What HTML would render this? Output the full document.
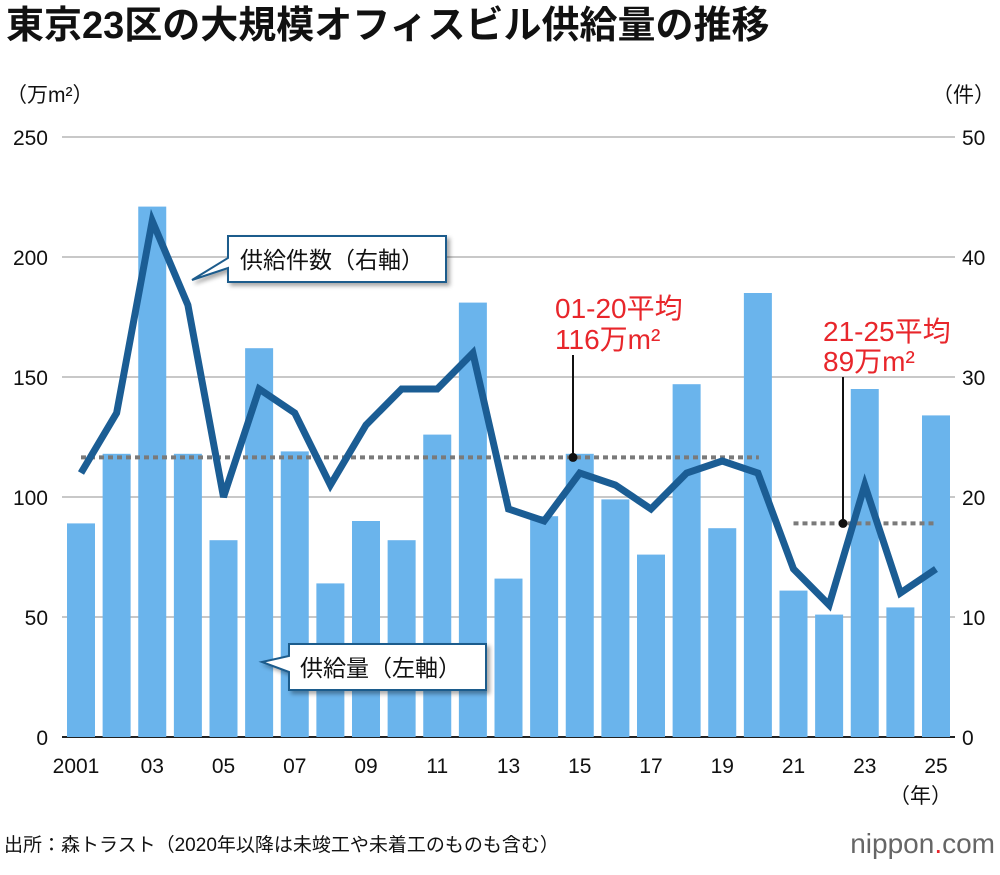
<!DOCTYPE html>
<html><head><meta charset="utf-8"><style>
body{margin:0;background:#fff;font-family:"Liberation Sans","Noto Sans CJK JP",sans-serif;}
svg text{font-family:"Liberation Sans","Noto Sans CJK JP",sans-serif;}
</style></head><body>
<svg id="c" width="1000" height="870" viewBox="0 0 1000 870">
<defs><filter id="sh" x="-10%" y="-10%" width="130%" height="140%"><feDropShadow dx="3" dy="3" stdDeviation="2" flood-color="#000" flood-opacity="0.35"/></filter></defs>
<text x="6" y="38" font-size="38" font-weight="bold" fill="#111">東京23区の大規模オフィスビル供給量の推移</text>
<text x="6" y="102" font-size="21" fill="#111">（万m²）</text>
<text x="995" y="102" font-size="21" fill="#111" text-anchor="end">（件）</text>
<g id="grid"></g><g id="bars"></g><g id="avg"></g><g id="line"></g><g id="ticks"></g>
<g filter="url(#sh)">
<path d="M228,236 H446 V282 H228 V268 L192,280 L228,258 Z" fill="#fff" stroke="#1d5b8c" stroke-width="2"/>
</g>
<text x="240" y="268" font-size="23" fill="#111">供給件数（右軸）</text>
<g filter="url(#sh)">
<path d="M289,644 H486 V690 H289 V672 L262,662 L289,656 Z" fill="#fff" stroke="#1d5b8c" stroke-width="2"/>
</g>
<text x="300" y="676" font-size="23" fill="#111">供給量（左軸）</text>
<text x="555" y="318" font-size="28" fill="#e8262b">01-20平均</text>
<text x="555" y="349" font-size="28" fill="#e8262b">116万m²</text>
<text x="823" y="341" font-size="28" fill="#e8262b">21-25平均</text>
<text x="823" y="371" font-size="28" fill="#e8262b">89万m²</text>
<text x="952" y="803" font-size="21" fill="#111" text-anchor="end">（年）</text>
<text x="4" y="851" font-size="19" fill="#111">出所：森トラスト（2020年以降は未竣工や未着工のものも含む）</text>
<text x="995" y="853" font-size="28" fill="#666" text-anchor="end">nippon<tspan fill="#e8262b">.</tspan>com</text>
</svg>
<script>
const years=[2001,2002,2003,2004,2005,2006,2007,2008,2009,2010,2011,2012,2013,2014,2015,2016,2017,2018,2019,2020,2021,2022,2023,2024,2025];
const supply=[89,118,221,118,82,162,119,64,90,82,126,181,66,92,118,99,76,147,87,185,61,51,145,54,134];
const counts=[22,27,43,36,20,29,27,21,26,29,29,32,19,18,22,21,19,22,23,22,14,11,21,12,14];
const xLabels=["2001","03","05","07","09","11","13","15","17","19","21","23","25"];
const leftTicks=[0,50,100,150,200,250];
const rightTicks=[0,10,20,30,40,50];
const averages=[{from:2001,to:2020,value:116.5},{from:2021,to:2025,value:89}];
const NS="http://www.w3.org/2000/svg";
const x=i=>81+i*35.625;
const yL=v=>737-v*2.4;
const yR=v=>737-v*12;
function mk(tag,attrs,parent,text){const e=document.createElementNS(NS,tag);for(const k in attrs)e.setAttribute(k,attrs[k]);if(text!==undefined)e.textContent=text;document.getElementById(parent).appendChild(e);return e;}
leftTicks.forEach((t,i)=>{
 const g=mk('line',{x1:62,x2:955,y1:yL(t),y2:yL(t),stroke:t===0?'#222':'#c8c8c8','stroke-width':2},'grid');
 
 
 const a=mk('text',{x:48,y:yL(t)+8,'font-size':21,'text-anchor':'end',fill:'#111'},'ticks',String(t));
 
 
 const b=mk('text',{x:962,y:yR(rightTicks[i])+8,'font-size':21,fill:'#111'},'ticks',String(rightTicks[i]));
 
 
});
supply.forEach((v,i)=>{
 const r=mk('rect',{x:x(i)-14,y:yL(v),width:28,height:yL(0)-yL(v),fill:'#6ab4ec'},'bars');
 
 
});
averages.forEach((a,k)=>{
 const i0=years.indexOf(a.from),i1=years.indexOf(a.to);
 const l=mk('line',{x1:x(i0),x2:x(i1)+1,y1:yL(a.value),y2:yL(a.value),stroke:'#7a7a7a','stroke-width':4,'stroke-dasharray':'5,4'},'avg');
 
 
});
const m1=[573,yL(averages[0].value),355],m2=[843,yL(averages[1].value),377];
[m1,m2].forEach(m=>{
 const l=mk('line',{x1:m[0],x2:m[0],y1:m[1],y2:m[2],stroke:'#111','stroke-width':2},'avg');
 
 
 const c=mk('circle',{cx:m[0],cy:m[1],r:4.5,fill:'#111'},'avg');
 
 
});
const p=mk('polyline',{points:counts.map((v,i)=>x(i)+','+yR(v)).join(' '),fill:'none',stroke:'#1b5d94','stroke-width':7,'stroke-linejoin':'miter'},'line');


xLabels.forEach((t,k)=>{
 const e=mk('text',{x:x(k*2)+(k===0?-5:0),y:773,'font-size':21,'text-anchor':'middle',fill:'#111'},'ticks',t);
 
 
});
</script>
</body></html>
